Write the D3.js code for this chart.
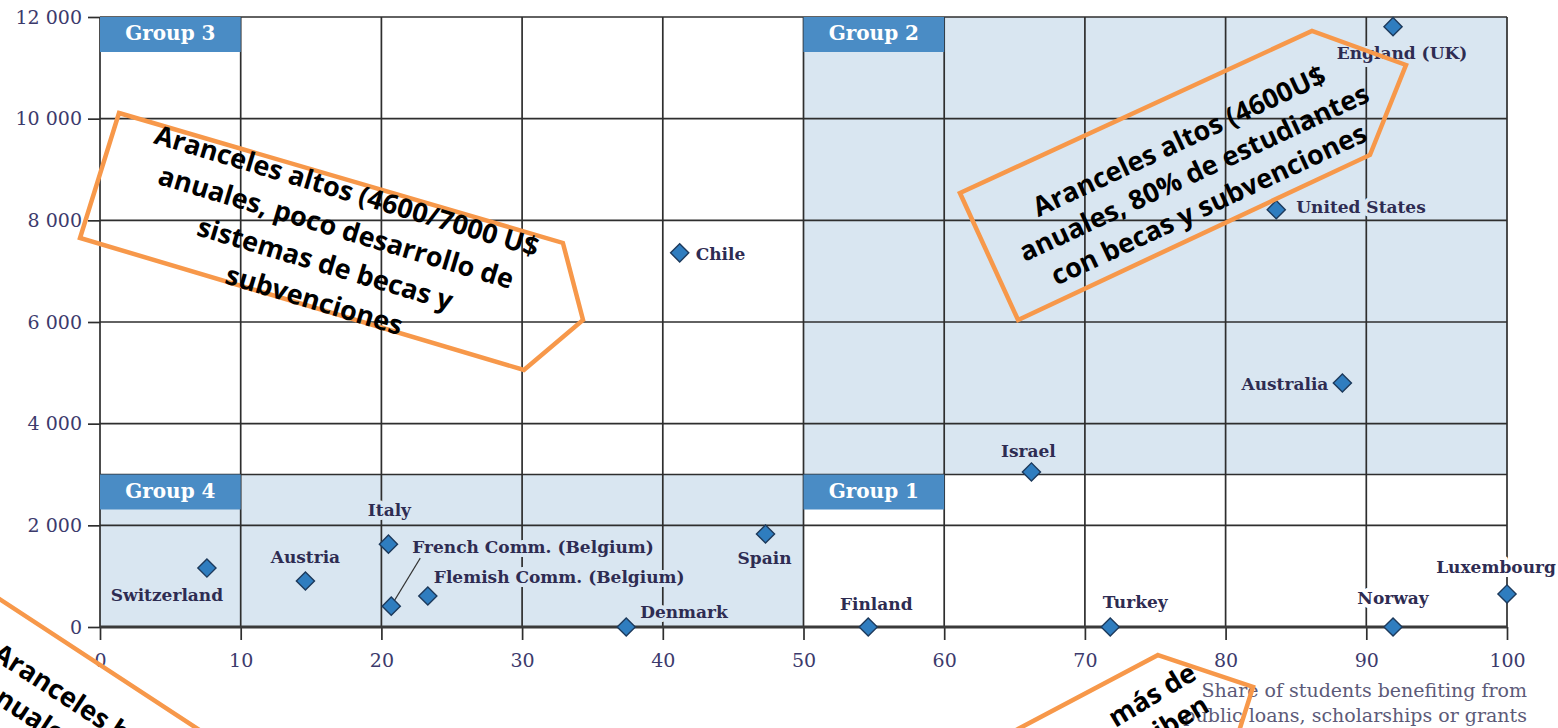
<!DOCTYPE html>
<html>
<head>
<meta charset="utf-8">
<script src="https://cdn.jsdelivr.net/npm/d3@7"></script>
<style>
  body { margin: 0; background: #fff; }
  svg { display: block; }
</style>
</head>
<body>
<svg id="chart" width="1558" height="728"></svg>
<script>
// values
const countries = ['Switzerland', 'Austria', 'Italy', 'French Comm. (Belgium)', 'Flemish Comm. (Belgium)',
  'Denmark', 'Spain', 'Chile', 'Finland', 'Israel', 'Turkey', 'Norway', 'Luxembourg',
  'Australia', 'United States', 'England (UK)'];
const aidShare = [7.6, 14.6, 20.5, 20.7, 23.3, 37.4, 47.3, 41.2, 54.6, 66.2, 71.8, 91.9, 100, 88.3, 83.6, 91.9];
const tuitionFees = [1160, 905, 1630, 410, 610, 0, 1830, 7360, 0, 3050, 0, 0, 650, 4800, 8210, 11810];

const xTicks = [0, 10, 20, 30, 40, 50, 60, 70, 80, 90, 100];
const yTicks = [0, 2000, 4000, 6000, 8000, 10000, 12000];

const groupNames = ['Group 1', 'Group 2', 'Group 3', 'Group 4'];
const groupXFrom = [50, 50, 0, 0];
const groupXTo = [100, 100, 50, 50];
const groupYFrom = [0, 3000, 3000, 0];
const groupYTo = [3000, 12000, 12000, 3000];
const groupShaded = [false, true, false, true];

const axisTitle = ['Share of students benefiting from', 'public loans, scholarships or grants'];

// label layout (pixel offsets from each diamond)
const labelPlacement = {
  'Switzerland': { dx: -40, dy: 33, anchor: 'middle' },
  'Austria': { dx: 0, dy: -18, anchor: 'middle' },
  'Italy': { dx: 1, dy: -28, anchor: 'middle' },
  'French Comm. (Belgium)': { dx: 21, dy: -53, anchor: 'start', leader: true },
  'Flemish Comm. (Belgium)': { dx: 6, dy: -13, anchor: 'start' },
  'Denmark': { dx: 14, dy: -9, anchor: 'start' },
  'Spain': { dx: -1, dy: 30, anchor: 'middle' },
  'Chile': { dx: 16, dy: 7, anchor: 'start' },
  'Finland': { dx: 8, dy: -17, anchor: 'middle' },
  'Israel': { dx: -3, dy: -15, anchor: 'middle' },
  'Turkey': { dx: 25, dy: -19, anchor: 'middle' },
  'Norway': { dx: 0, dy: -23, anchor: 'middle' },
  'Luxembourg': { dx: -11, dy: -21, anchor: 'middle' },
  'Australia': { dx: -14, dy: 7, anchor: 'end' },
  'United States': { dx: 20, dy: 3, anchor: 'start' },
  'England (UK)': { dx: 9, dy: 32, anchor: 'middle' }
};

// orange call-outs, in chart units
const notes = [
  { poly: [[1.35, 10112], [32.9, 7555], [34.33, 6040], [30.13, 5056], [-1.42, 7653]],
    at: [17.55, 8578], angle: 16.6, spacing: 38, anchor: 'middle', indent: [0, 0, 0, 0],
    lines: ['Aranceles altos (4600/7000 U$', 'anuales, poco desarrollo de', 'sistemas de becas y', 'subvenciones'] },
  { poly: [[61.12, 8538], [86.14, 11725], [92.82, 11056], [90.26, 9286], [65.25, 6040]],
    at: [76.7, 9560], angle: -25, spacing: 35, anchor: 'middle', indent: [0, 0, 0],
    lines: ['Aranceles altos (4600U$', 'anuales, 80% de estudiantes', 'con becas y subvenciones'] },
  { poly: [[-7.8, 670], [11.4, -2813], [4, -6000], [-20, -3000]],
    at: [-7.39, -452], angle: 33, spacing: 36, anchor: 'start', indent: [0, 10],
    lines: ['Aranceles bajos', 'anuales'] },
  { poly: [[75.2, -551], [81.95, -1180], [79.4, -3404], [55.7, -3404]],
    at: [74.77, -1338], angle: -31, spacing: 34, anchor: 'middle', indent: [0, -8],
    lines: ['más de', 'reciben'] }
];

const serif = "'DejaVu Serif', serif";
const shade = '#d9e6f1';
const gridColor = '#2e2e2e';
const textColor = '#2e2c52';

const svg = d3.select('svg#chart');
const x = d3.scaleLinear().domain([0, 100]).range([100, 1507]);
const y = d3.scaleLinear().domain([0, 12000]).range([627, 17]);

const isShaded = (xv, yv) => (xv < 50 && yv < 3000) || (xv >= 50 && yv >= 3000);

// group backgrounds
svg.append('g').selectAll('rect').data(groupNames)
  .enter().append('rect')
    .attr('x', (d, i) => x(groupXFrom[i]))
    .attr('y', (d, i) => y(groupYTo[i]))
    .attr('width', (d, i) => x(groupXTo[i]) - x(groupXFrom[i]))
    .attr('height', (d, i) => y(groupYFrom[i]) - y(groupYTo[i]))
    .style('fill', (d, i) => groupShaded[i] ? shade : '#fff');

// grid
const grid = svg.append('g').style('stroke', gridColor).style('stroke-width', 1.7);
grid.selectAll('line.v').data(xTicks)
  .enter().append('line')
    .attr('class', 'v')
    .attr('x1', d => x(d)).attr('x2', d => x(d))
    .attr('y1', y(0)).attr('y2', y(12000));
grid.selectAll('line.h').data([...yTicks, 3000])
  .enter().append('line')
    .attr('class', 'h')
    .attr('x1', x(0)).attr('x2', x(100))
    .attr('y1', d => y(d)).attr('y2', d => y(d));

// group tags
const tags = svg.append('g').selectAll('g').data(groupNames)
  .enter().append('g')
    .attr('transform', (d, i) => `translate(${x(groupXFrom[i])},${y(groupYTo[i])})`);
tags.append('rect')
  .attr('width', (d, i) => x(groupXFrom[i] + 10) - x(groupXFrom[i]))
  .attr('height', 35)
  .style('fill', '#4a8cc5');
tags.append('text')
  .attr('x', (d, i) => (x(groupXFrom[i] + 10) - x(groupXFrom[i])) / 2)
  .attr('y', 23)
  .attr('text-anchor', 'middle')
  .style('font-family', serif).style('font-weight', 'bold').style('font-size', '20px')
  .style('fill', '#fff')
  .text(d => d);

// axes
const fmt = v => d3.format(',')(v).replace(/,/g, ' ');
const yAxis = svg.append('g')
  .attr('transform', `translate(${x(0)},0)`)
  .call(d3.axisLeft(y).tickValues(yTicks).tickSize(12).tickPadding(6).tickFormat(fmt));
const xAxis = svg.append('g')
  .attr('transform', `translate(0,${y(0)})`)
  .call(d3.axisBottom(x).tickValues(xTicks).tickSize(13).tickPadding(14));
[xAxis, yAxis].forEach(a => {
  a.select('.domain').remove();
  a.selectAll('.tick line').style('stroke', gridColor).style('stroke-width', 1.7);
  a.selectAll('.tick text')
    .style('font-family', serif).style('font-size', '19px').style('fill', '#3c3a6c');
});

svg.append('line')
  .attr('x1', x(0)).attr('x2', x(100)).attr('y1', y(0)).attr('y2', y(0))
  .style('stroke', '#3a3a3a').style('stroke-width', 2.8);

// points
const points = countries.map((c, i) => ({ name: c, share: aidShare[i], fee: tuitionFees[i] }));

const leaders = points.filter(p => labelPlacement[p.name].leader);
svg.append('g').selectAll('line').data(leaders)
  .enter().append('line')
    .attr('x1', d => x(d.share) + 1).attr('y1', d => y(d.fee) - 2)
    .attr('x2', d => x(d.share) + labelPlacement[d.name].dx + 8)
    .attr('y2', d => y(d.fee) + labelPlacement[d.name].dy + 5)
    .style('stroke', '#333').style('stroke-width', 1.1);

svg.append('g').selectAll('text').data(points)
  .enter().append('text')
    .attr('x', d => x(d.share) + labelPlacement[d.name].dx)
    .attr('y', d => y(d.fee) + labelPlacement[d.name].dy)
    .attr('text-anchor', d => labelPlacement[d.name].anchor)
    .style('font-family', serif).style('font-size', '17px').style('font-weight', 'bold')
    .style('fill', textColor)
    .style('paint-order', 'stroke')
    .style('stroke', d => isShaded(d.share, d.fee) ? shade : '#fff')
    .style('stroke-width', 8).style('stroke-linejoin', 'round')
    .text(d => d.name);

const diamond = d3.symbol().type(d3.symbolSquare).size(165);
svg.append('g').selectAll('path').data(points)
  .enter().append('path')
    .attr('d', diamond)
    .attr('transform', d => `translate(${x(d.share)},${y(d.fee)}) rotate(45)`)
    .style('fill', '#2f7dbf').style('stroke', '#1d3a5c').style('stroke-width', 1.4);

// axis title
svg.append('g').selectAll('text').data(axisTitle)
  .enter().append('text')
    .attr('x', 1527)
    .attr('y', (d, i) => 697 + i * 25)
    .attr('text-anchor', 'end')
    .style('font-family', serif).style('font-size', '19px')
    .style('fill', '#5c5a78')
    .text(d => d);

// call-outs
const noteG = svg.append('g').selectAll('g').data(notes).enter().append('g');
noteG.append('polygon')
  .attr('points', d => d.poly.map(p => [x(p[0]), y(p[1])].join(',')).join(' '))
  .style('fill', 'none').style('stroke', '#f7984a').style('stroke-width', 4.5)
  .style('stroke-linejoin', 'miter');
noteG.append('g')
  .attr('transform', d => `translate(${x(d.at[0])},${y(d.at[1])}) rotate(${d.angle})`)
  .each(function (d) {
    d3.select(this).selectAll('text').data(d.lines)
      .enter().append('text')
        .attr('x', (t, i) => d.indent[i] || 0)
        .attr('y', (t, i) => i * d.spacing)
        .attr('dy', '0.35em')
        .attr('text-anchor', d.anchor)
        .style('font-family', "'Open Sans', sans-serif").style('font-weight', 'bold')
        .style('font-size', '27px').style('fill', '#000')
        .text(t => t);
  });
</script>
</body>
</html>
